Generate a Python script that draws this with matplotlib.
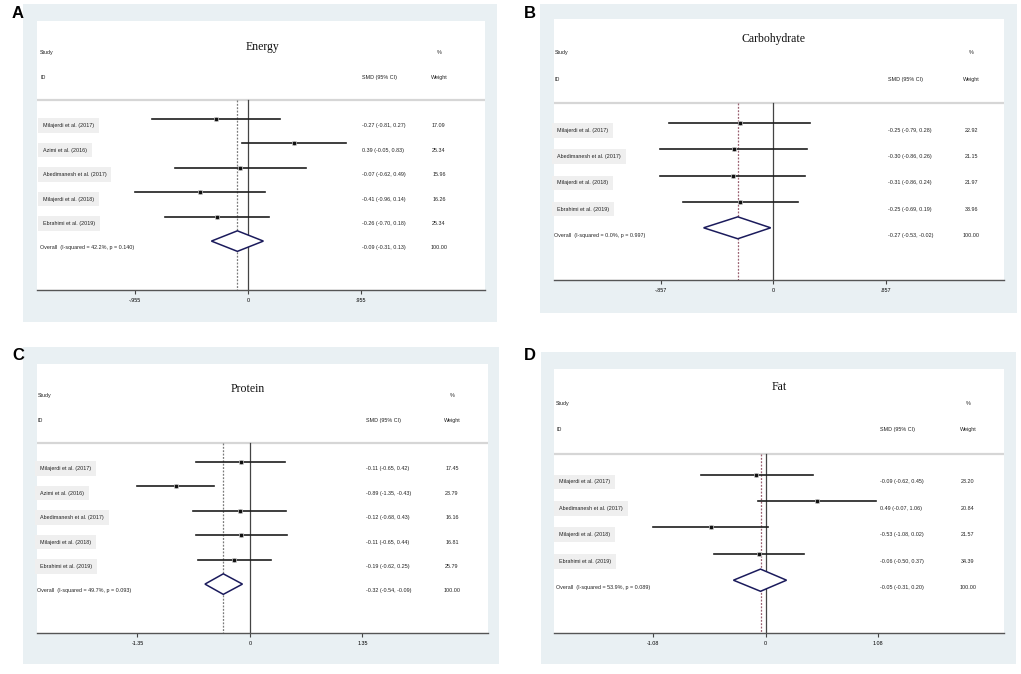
"""Four-panel forest plot (SMD, 95% CI) for energy and macronutrient intake."""
import matplotlib
matplotlib.use("Agg")
import matplotlib.pyplot as plt
from matplotlib.patches import Rectangle, Polygon
from matplotlib.transforms import blended_transform_factory

W, H = 1021, 674

# ---- data -------------------------------------------------------------
energy_studies = ["Milajerdi et al. (2017)", "Azimi et al. (2016)", "Abedimanesh et al. (2017)",
                  "Milajerdi et al. (2018)", "Ebrahimi et al. (2019)"]
energy_smd = [-0.27, 0.39, -0.07, -0.41, -0.26]
energy_lo = [-0.81, -0.05, -0.62, -0.96, -0.70]
energy_hi = [0.27, 0.83, 0.49, 0.14, 0.18]
energy_wt = [17.09, 25.34, 15.96, 16.26, 25.34]
energy_overall = [-0.09, -0.31, 0.13]
energy_het = [42.2, 0.140]
energy_ticks = [-0.955, 0, 0.955]
energy_ticklabels = ["-.955", "0", ".955"]

carb_studies = ["Milajerdi et al. (2017)", "Abedimanesh et al. (2017)",
                "Milajerdi et al. (2018)", "Ebrahimi et al. (2019)"]
carb_smd = [-0.25, -0.30, -0.31, -0.25]
carb_lo = [-0.79, -0.86, -0.86, -0.69]
carb_hi = [0.28, 0.26, 0.24, 0.19]
carb_wt = [22.92, 21.15, 21.97, 33.96]
carb_overall = [-0.27, -0.53, -0.02]
carb_het = [0.0, 0.997]
carb_ticks = [-0.857, 0, 0.857]
carb_ticklabels = ["-.857", "0", ".857"]

protein_studies = ["Milajerdi et al. (2017)", "Azimi et al. (2016)", "Abedimanesh et al. (2017)",
                   "Milajerdi et al. (2018)", "Ebrahimi et al. (2019)"]
protein_smd = [-0.11, -0.89, -0.12, -0.11, -0.19]
protein_lo = [-0.65, -1.35, -0.68, -0.65, -0.62]
protein_hi = [0.42, -0.43, 0.43, 0.44, 0.25]
protein_wt = [17.45, 23.79, 16.16, 16.81, 25.79]
protein_overall = [-0.32, -0.54, -0.09]
protein_het = [49.7, 0.093]
protein_ticks = [-1.35, 0, 1.35]
protein_ticklabels = ["-1.35", "0", "1.35"]

fat_studies = ["Milajerdi et al. (2017)", "Abedimanesh et al. (2017)",
               "Milajerdi et al. (2018)", "Ebrahimi et al. (2019)"]
fat_smd = [-0.09, 0.49, -0.53, -0.06]
fat_lo = [-0.62, -0.07, -1.08, -0.50]
fat_hi = [0.45, 1.06, 0.02, 0.37]
fat_wt = [23.20, 20.84, 21.57, 34.39]
fat_overall = [-0.05, -0.31, 0.20]
fat_het = [53.9, 0.089]
fat_ticks = [-1.08, 0, 1.08]
fat_ticklabels = ["-1.08", "0", "1.08"]

# ---- layout (pixel boxes: x0, y0, x1, y1) -------------------------------
PANELS = [
    dict(letter="A", title="Energy", studies=energy_studies, smd=energy_smd, lo=energy_lo,
         hi=energy_hi, wt=energy_wt, overall=energy_overall, het=energy_het,
         ticks=energy_ticks, ticklabels=energy_ticklabels,
         outer=(23, 4, 497, 322), inner=(37, 21, 485, 290), letter_xy=(12, 14),
         xl=(-1.87, 2.10), title_x=0.504, title_y=-2.95, dash="#7a7a7a",
         smd_x=0.725, wt_x=0.897, lab_x=0.013),
    dict(letter="B", title="Carbohydrate", studies=carb_studies, smd=carb_smd, lo=carb_lo,
         hi=carb_hi, wt=carb_wt, overall=carb_overall, het=carb_het,
         ticks=carb_ticks, ticklabels=carb_ticklabels,
         outer=(540, 4, 1017, 313), inner=(554, 19, 1004, 280), letter_xy=(524, 13),
         xl=(-1.946, 2.047), title_x=0.487, title_y=-3.25, dash="#9a6070",
         smd_x=0.742, wt_x=0.927, lab_x=0.007),
    dict(letter="C", title="Protein", studies=protein_studies, smd=protein_smd, lo=protein_lo,
         hi=protein_hi, wt=protein_wt, overall=protein_overall, het=protein_het,
         ticks=protein_ticks, ticklabels=protein_ticklabels,
         outer=(23, 347, 499, 664), inner=(37, 364, 488, 633), letter_xy=(12, 355),
         xl=(-1.893, 2.116), title_x=0.468, title_y=-2.98, dash="#7a7a7a",
         smd_x=0.73, wt_x=0.92, lab_x=0.007),
    dict(letter="D", title="Fat", studies=fat_studies, smd=fat_smd, lo=fat_lo,
         hi=fat_hi, wt=fat_wt, overall=fat_overall, het=fat_het,
         ticks=fat_ticks, ticklabels=fat_ticklabels,
         outer=(541, 352, 1016, 664), inner=(554, 369, 1004, 633), letter_xy=(524, 356),
         xl=(-1.882, 2.118), title_x=0.5, title_y=-3.3, dash="#9a6070",
         smd_x=0.724, wt_x=0.92, lab_x=0.011),
]

SANS = "Liberation Sans"
SERIF = "Liberation Serif"
SMALL = 3.9
OUTER_BG = "#e9f0f3"
TEXT_OFF = 0.28


def draw_panel(fig, p):
    x0, y0, x1, y1 = p["outer"]
    fig.patches.append(Rectangle((x0 / W, 1 - y1 / H), (x1 - x0) / W, (y1 - y0) / H,
                                 transform=fig.transFigure, fc=OUTER_BG, ec="none", zorder=0))
    fig.text(p["letter_xy"][0] / W, 1 - p["letter_xy"][1] / H, p["letter"], family=SANS,
             weight="bold", fontsize=12, ha="left", va="center")

    ix0, iy0, ix1, iy1 = p["inner"]
    ax = fig.add_axes([ix0 / W, 1 - iy1 / H, (ix1 - ix0) / W, (iy1 - iy0) / H])
    ax.set_facecolor("white")
    ax.set_zorder(1)

    T = p["ticks"][-1]
    n = len(p["studies"])
    ybot = n + 2
    hdr = -0.77
    ax.set_xlim(p["xl"][0] * T, p["xl"][1] * T)
    ax.set_ylim(ybot, -4)

    for side in ("top", "left", "right"):
        ax.spines[side].set_visible(False)
    ax.spines["bottom"].set_color("#555555")
    ax.spines["bottom"].set_linewidth(1.0)
    ax.set_yticks([])
    ax.set_xticks(p["ticks"])
    ax.set_xticklabels(p["ticklabels"], family=SANS, fontsize=SMALL)
    ax.tick_params(axis="x", length=3, width=0.8, color="#444444", pad=3)

    ax.axhline(hdr, color="#d6d6d6", lw=1.6, zorder=1)
    ax.plot([0, 0], [hdr, ybot], color="#444444", lw=0.9, zorder=2)
    ov, ov_lo, ov_hi = p["overall"]
    ax.plot([ov, ov], [hdr, ybot], color=p["dash"], lw=0.9, ls=(0, (1.5, 1.2)), zorder=2)

    tr = blended_transform_factory(ax.transAxes, ax.transData)
    txt = dict(family=SANS, fontsize=SMALL, color="#222222", va="center")

    # headers
    ax.text(p["lab_x"] - 0.006, -2.7, "Study", transform=tr, ha="left", **txt)
    ax.text(p["lab_x"] - 0.006, -1.7, "ID", transform=tr, ha="left", **txt)
    ax.text(p["smd_x"], -1.7, "SMD (95% CI)", transform=tr, ha="left", **txt)
    ax.text(p["wt_x"], -2.7, "%", transform=tr, ha="center", **txt)
    ax.text(p["wt_x"], -1.7, "Weight", transform=tr, ha="center", **txt)
    ax.text(p["title_x"], p["title_y"], p["title"], transform=tr, ha="center", va="center",
            family=SERIF, fontsize=8.5, color="#111111")

    # studies
    for i, (name, m, lo, hi, w) in enumerate(zip(p["studies"], p["smd"], p["lo"], p["hi"], p["wt"])):
        ax.plot([lo, hi], [i, i], color="#1e1e1e", lw=1.2, zorder=3)
        ax.plot(m, i, marker="s", ms=w ** 0.5 * 0.6, mfc="none", mec="#c8c8c8", mew=0.6, zorder=3)
        ax.plot(m, i, marker="s", ms=1.6, color="#111111", zorder=4)
        ax.text(p["lab_x"], i + TEXT_OFF, name, transform=tr, ha="left",
                bbox=dict(boxstyle="square,pad=0.9", fc="#efefef", ec="none"), **txt)
        ax.text(p["smd_x"], i + TEXT_OFF, f"{m:.2f} ({lo:.2f}, {hi:.2f})", transform=tr,
                ha="left", **txt)
        ax.text(p["wt_x"], i + TEXT_OFF, f"{w:.2f}", transform=tr, ha="center", **txt)

    # overall diamond
    yo = n
    ax.add_patch(Polygon([(ov_lo, yo), (ov, yo - 0.42), (ov_hi, yo), (ov, yo + 0.42)],
                         closed=True, fc="white", ec="#1b1b5c", lw=1.1, zorder=5))
    i2, pval = p["het"]
    ax.text(p["lab_x"] - 0.006, yo + TEXT_OFF,
            f"Overall  (I-squared = {i2:.1f}%, p = {pval:.3f})", transform=tr, ha="left", **txt)
    ax.text(p["smd_x"], yo + TEXT_OFF, f"{ov:.2f} ({ov_lo:.2f}, {ov_hi:.2f})", transform=tr,
            ha="left", **txt)
    ax.text(p["wt_x"], yo + TEXT_OFF, "100.00", transform=tr, ha="center", **txt)


def main():
    fig = plt.figure(figsize=(W / 100, H / 100), dpi=100)
    fig.patch.set_facecolor("white")
    for p in PANELS:
        draw_panel(fig, p)
    fig.savefig("out.png", dpi=100)


if __name__ == "__main__":
    main()
